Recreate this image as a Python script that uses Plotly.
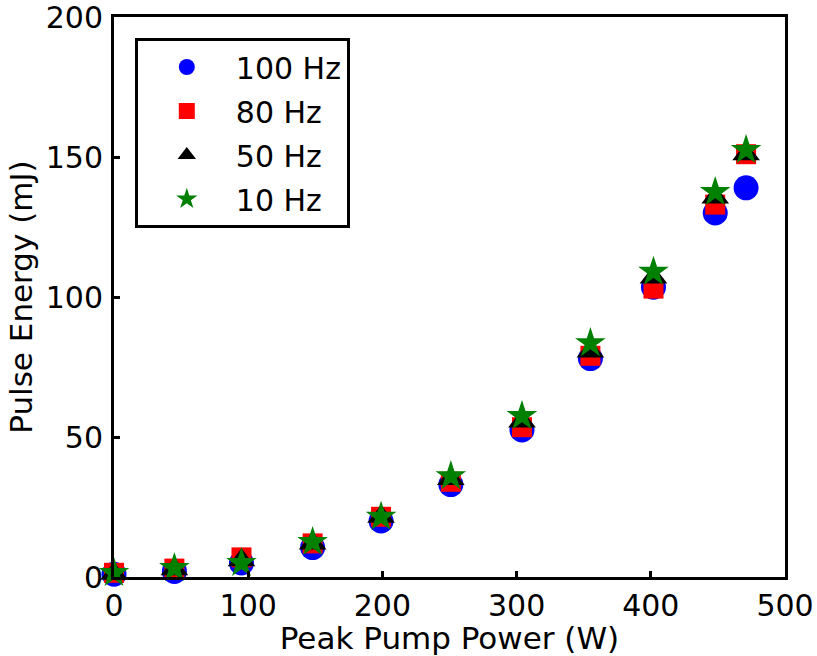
import plotly.graph_objects as go

power = [0, 45, 95, 148, 199, 251, 304, 355, 402, 448, 471]
e100 = [1.0, 2.0, 5.0, 10.5, 20.0, 33.0, 52.5, 78.0, 103.5, 130.0, 139.0]
e80 = [1.5, 3.0, 7.0, 12.0, 21.5, 34.0, 53.5, 79.0, 103.0, 133.0, 151.0]
e50 = [1.2, 2.8, 6.0, 12.0, 21.5, 35.0, 55.5, 80.5, 107.0, 135.5, 151.0]
e10 = [1.4, 3.2, 5.0, 12.5, 21.5, 36.0, 57.5, 83.5, 109.0, 137.5, 152.5]

series = [
    ("100 Hz", e100, "circle", "#0000ff", 25),
    ("80 Hz", e80, "square", "#ff0000", 20),
    ("50 Hz", e50, "triangle-up", "#000000", 24),
    ("10 Hz", e10, "star", "#008000", 23),
]

FONT = "DejaVu Sans, Liberation Sans, Arial, sans-serif"

fig = go.Figure()
for name, ys, sym, col, sz in series:
    fig.add_trace(go.Scatter(
        x=power, y=ys, mode="markers", name=name, legendgroup=name,
        marker=dict(symbol=sym, color=col, size=sz, line=dict(width=0)),
        cliponaxis=False,
    ))

axis_common = dict(
    showline=True, linewidth=3, linecolor="black", mirror=True,
    ticks="inside", ticklen=6, tickwidth=3, tickcolor="black",
    showgrid=False, zeroline=False, automargin=False,
    ticklabeloverflow="allow",
    tickfont=dict(family=FONT, size=30, color="black"),
)

fig.update_layout(
    width=817, height=656,
    margin=dict(l=114, r=32, t=17, b=79, autoexpand=False),
    paper_bgcolor="white", plot_bgcolor="white",
    font=dict(family=FONT, size=30, color="black"),
    xaxis=dict(range=[0, 500], tickvals=[0, 100, 200, 300, 400, 500], ticklabelstandoff=0,
               title=dict(text="Peak Pump Power (W)", font=dict(size=31), standoff=0), **axis_common),
    yaxis=dict(range=[0, 200], tickvals=[0, 50, 100, 150, 200], ticklabelstandoff=2,
               title=dict(text="Pulse Energy (mJ)", font=dict(size=31), standoff=4), **axis_common),
    legend=dict(
        x=0.031, y=0.9625, xanchor="left", yanchor="top",
        bordercolor="black", borderwidth=3, bgcolor="white",
        font=dict(family=FONT, size=30, color="black"),
        itemwidth=88, tracegroupgap=2, traceorder="grouped",
    ),
    showlegend=True,
)

fig.write_html("out.html")
